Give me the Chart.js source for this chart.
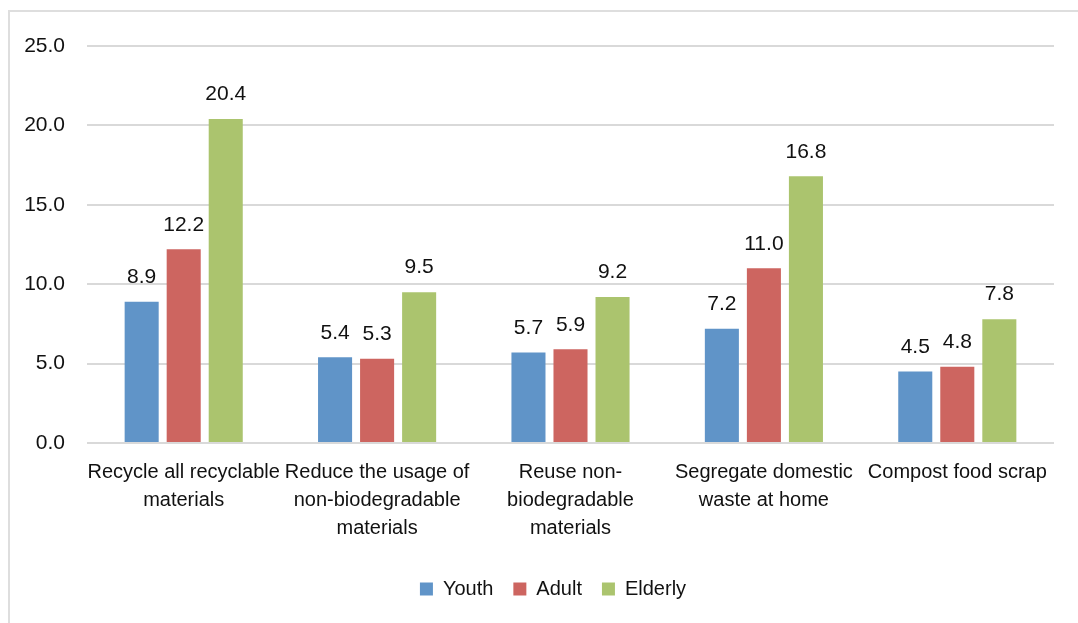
<!DOCTYPE html>
<html>
<head>
<meta charset="utf-8">
<script src="https://cdn.jsdelivr.net/npm/chart.js@4/dist/chart.umd.min.js"></script>
<style>
  html, body { margin: 0; padding: 0; background: #fff; overflow: hidden; }
  #frame {
    position: absolute; left: 8px; top: 10px; width: 1200px; height: 800px;
    border: 2px solid #dedede; box-sizing: border-box;
  }
  #wrap { position: absolute; left: 0; top: 0; width: 1078px; height: 623px; }
</style>
</head>
<body>
<div id="frame"></div>
<div id="wrap"><canvas id="chart"></canvas></div>
<script>
const categories = [
  ["Recycle all recyclable", "materials"],
  ["Reduce the usage of", "non-biodegradable", "materials"],
  ["Reuse non-", "biodegradable", "materials"],
  ["Segregate domestic", "waste at home"],
  ["Compost food scrap"]
];
const youth = [8.9, 5.4, 5.7, 7.2, 4.5];
const adult = [12.2, 5.3, 5.9, 11.0, 4.8];
const elderly = [20.4, 9.5, 9.2, 16.8, 7.8];
const yTicks = [0, 5, 10, 15, 20, 25];

const FONT = "'Liberation Sans', Arial, sans-serif";

// value labels above each bar
const barLabels = {
  id: "barLabels",
  afterDatasetsDraw(chart) {
    const ctx = chart.ctx;
    ctx.save();
    ctx.font = "21px " + FONT;
    ctx.fillStyle = "#111";
    ctx.textAlign = "center";
    ctx.textBaseline = "bottom";
    chart.data.datasets.forEach((ds, i) => {
      chart.getDatasetMeta(i).data.forEach((bar, j) => {
        ctx.fillText(ds.data[j].toFixed(1), bar.x, bar.y - 14);
      });
    });
    ctx.restore();
  }
};

// nudge the legend a little to the right of the canvas centre
const legendShift = {
  id: "legendShift",
  afterLayout(chart) {
    chart.legend.left += 21;
    chart.legend.right += 21;
  }
};

new Chart(document.getElementById("chart"), {
  type: "bar",
  data: {
    labels: categories,
    datasets: [
      { label: "Youth", data: youth, backgroundColor: "#6094c8" },
      { label: "Adult", data: adult, backgroundColor: "#cd6560" },
      { label: "Elderly", data: elderly, backgroundColor: "#abc46e" }
    ]
  },
  options: {
    responsive: true,
    maintainAspectRatio: false,
    animation: false,
    layout: { padding: { top: 46, left: 10, right: 24, bottom: 14 } },
    datasets: { bar: { categoryPercentage: 0.652, barPercentage: 0.81 } },
    scales: {
      x: {
        grid: { display: false },
        border: { display: false },
        ticks: {
          color: "#111",
          font: { family: FONT, size: 20, lineHeight: 1.4 },
          padding: 7,
          maxRotation: 0,
          autoSkip: false
        },
        afterFit: (scale) => { scale.height = 116; }
      },
      y: {
        min: 0,
        max: 25,
        afterBuildTicks: (scale) => { scale.ticks = yTicks.map(v => ({ value: v })); },
        grid: { color: "#d9d9d9", lineWidth: 2, drawTicks: false },
        border: { display: false },
        ticks: {
          color: "#111",
          font: { family: FONT, size: 21 },
          padding: 22,
          callback: (v) => v.toFixed(1)
        },
        afterFit: (scale) => { scale.width = 77; }
      }
    },
    plugins: {
      legend: {
        position: "bottom",
        labels: {
          color: "#111",
          font: { family: FONT, size: 20 },
          boxWidth: 13,
          boxHeight: 13,
          padding: 20
        }
      },
      tooltip: { enabled: false }
    }
  },
  plugins: [barLabels, legendShift]
});
</script>
</body>
</html>
